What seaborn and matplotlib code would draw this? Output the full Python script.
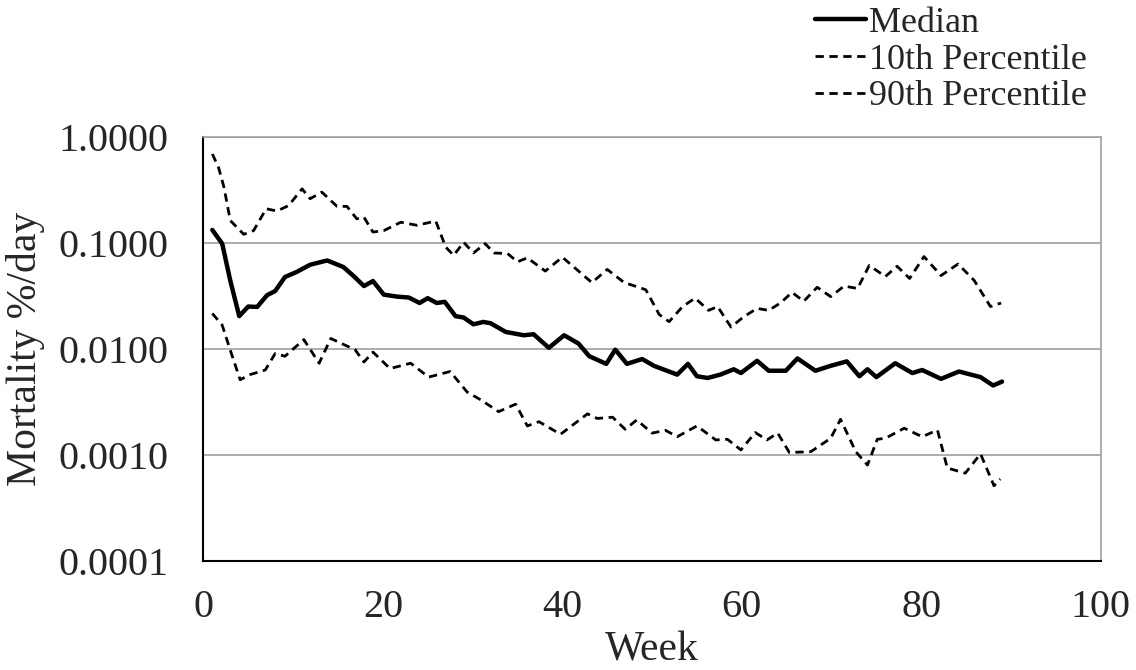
import matplotlib
matplotlib.use('Agg')
import matplotlib.pyplot as plt
import seaborn as sns
import pandas as pd

# values (week, mortality %/day)
median_week = [1.0, 2.1, 3.0, 4.0, 5.0, 6.0, 7.1, 8.0, 9.1, 10.4, 11.9, 13.8, 15.6, 16.8, 17.9,
               18.9, 20.1, 21.6, 22.9, 24.1, 25.0, 26.0, 26.9, 28.1, 29.0, 30.1, 31.2, 32.0, 33.7,
               35.7, 36.8, 38.5, 40.2, 41.8, 43.0, 44.9, 45.9, 47.2, 48.9, 50.2, 52.8, 54.0, 55.0,
               56.2, 57.6, 59.1, 59.9, 61.7, 63.0, 64.9, 66.2, 68.2, 69.9, 71.7, 73.1, 74.0, 75.0,
               77.1, 79.0, 80.1, 82.2, 84.2, 86.6, 88.0, 89.0]
median_val = [0.132, 0.098, 0.044, 0.0203, 0.025, 0.0248, 0.032, 0.035, 0.0475, 0.053, 0.062, 0.068,
              0.059, 0.048, 0.039, 0.0435, 0.0324, 0.031, 0.0304, 0.027, 0.030, 0.027, 0.0277, 0.0203,
              0.0197, 0.017, 0.0179, 0.0174, 0.0144, 0.0134, 0.0137, 0.0102, 0.0134, 0.0112, 0.0085,
              0.0072, 0.0098, 0.0072, 0.0080, 0.0069, 0.0057, 0.0072, 0.0055, 0.0053, 0.0057, 0.0064,
              0.0059, 0.0077, 0.0062, 0.0062, 0.0081, 0.0062, 0.0069, 0.0076, 0.0055, 0.0064, 0.0054,
              0.0073, 0.0059, 0.0063, 0.0052, 0.0061, 0.0054, 0.0045, 0.0049]

p90_week = [1.0, 1.7, 2.3, 3.0, 4.5, 5.6, 7.0, 8.2, 9.5, 11.0, 11.9, 13.2, 14.9, 16.0, 17.1, 17.9,
            18.9, 20.1, 22.0, 23.8, 25.9, 27.0, 27.9, 29.0, 30.1, 31.4, 32.4, 33.9, 35.0, 36.1,
            38.1, 40.0, 41.7, 43.3, 45.0, 46.9, 48.5, 49.3, 50.8, 51.9, 53.4, 54.8, 56.3, 57.3,
            58.8, 60.2, 61.7, 63.0, 64.3, 65.6, 66.9, 68.4, 69.9, 71.4, 72.9, 74.2, 76.0, 77.3,
            78.7, 80.3, 82.2, 84.1, 85.9, 87.7, 88.9]
p90_val = [0.687, 0.51, 0.333, 0.162, 0.12, 0.13, 0.209, 0.199, 0.224, 0.322, 0.26, 0.30, 0.22, 0.22,
           0.168, 0.174, 0.126, 0.13, 0.156, 0.146, 0.16, 0.091, 0.076, 0.101, 0.080, 0.098, 0.080,
           0.079, 0.066, 0.072, 0.054, 0.073, 0.055, 0.042, 0.056, 0.042, 0.038, 0.036, 0.021, 0.018,
           0.025, 0.030, 0.023, 0.025, 0.016, 0.020, 0.024, 0.023, 0.027, 0.034, 0.028, 0.038, 0.031,
           0.039, 0.037, 0.061, 0.048, 0.060, 0.046, 0.074, 0.049, 0.063, 0.044, 0.025, 0.027]

p10_week = [1.0, 2.1, 3.0, 4.1, 5.2, 6.9, 8.0, 9.1, 11.2, 12.9, 14.2, 15.6, 16.9, 17.9, 18.9, 20.8,
            23.1, 25.1, 27.5, 29.4, 30.9, 32.9, 34.8, 36.1, 37.4, 39.8, 42.8, 43.9, 45.6, 47.0,
            48.3, 50.0, 51.5, 52.8, 55.0, 57.1, 58.4, 59.9, 61.5, 62.8, 64.0, 65.3, 67.7, 69.9,
            71.0, 72.7, 74.0, 75.1, 76.0, 78.1, 80.1, 81.8, 82.9, 84.9, 86.6, 88.1, 88.8]
p10_val = [0.0215, 0.0167, 0.0097, 0.0051, 0.0057, 0.0063, 0.0090, 0.0085, 0.0122, 0.0073, 0.0125,
           0.0110, 0.0098, 0.0075, 0.0093, 0.0065, 0.0073, 0.0054, 0.0061, 0.0039, 0.0033, 0.00255,
           0.0030, 0.00187, 0.00205, 0.00156, 0.00243, 0.0022, 0.00226, 0.00174, 0.00213, 0.0016,
           0.0017, 0.00148, 0.00187, 0.00138, 0.0014, 0.00111, 0.00162, 0.00138, 0.0016, 0.00105,
           0.00107, 0.00143, 0.00216, 0.00107, 0.0008, 0.0014, 0.00143, 0.00178, 0.00148, 0.00171,
           0.00075, 0.00067, 0.00102, 0.00051, 0.00059]

y_ticks = [0.0001, 0.001, 0.01, 0.1, 1.0]

sns.set_style('white')
plt.rcParams['font.family'] = ['Liberation Serif', 'DejaVu Serif']

fig = plt.figure(figsize=(11.36, 6.7), dpi=100)
ax = fig.add_axes([0.179, 0.163, 0.790, 0.633])

dash = (0, (3, 2))
sns.lineplot(x=median_week, y=median_val, ax=ax, color='black', linewidth=3.2, label='Median')
sns.lineplot(x=p10_week, y=p10_val, ax=ax, color='black', linewidth=2, linestyle=dash,
             label='10th Percentile')
sns.lineplot(x=p90_week, y=p90_val, ax=ax, color='black', linewidth=2, linestyle=dash,
             label='90th Percentile')

ax.set_yscale('log')
ax.set_xlim(0, 100)
ax.set_ylim(0.0001, 1.0)
ax.set_yticks(y_ticks)
ax.set_yticklabels([f'{v:.4f}' for v in y_ticks])
ax.minorticks_off()
ax.set_xticks([0, 20, 40, 60, 80, 100])
ax.grid(axis='y', color='#a0a0a0', linewidth=1.2)
ax.grid(axis='x', visible=False)
ax.tick_params(axis='both', labelsize=29, direction='out', length=8, width=1,
               color='#909090')
ax.tick_params(axis='y', pad=17)
ax.tick_params(axis='x', pad=12)

for side in ['top', 'right']:
    ax.spines[side].set_color('#a0a0a0')
    ax.spines[side].set_linewidth(1.2)
for side in ['left', 'bottom']:
    ax.spines[side].set_color('black')
    ax.spines[side].set_linewidth(1.5)

ax.set_xlabel('Week', fontsize=30, labelpad=4)
ax.set_ylabel('Mortality %/day', fontsize=30, labelpad=10)

ax.get_legend().remove()
handles, labels = ax.get_legend_handles_labels()
fig.legend(handles, labels, loc='upper left', bbox_to_anchor=(0.705, 1.012), frameon=False,
           fontsize=26, handlelength=1.4, handletextpad=0.1, labelspacing=0.1,
           borderaxespad=0)

fig.savefig('out.png', dpi=100)
